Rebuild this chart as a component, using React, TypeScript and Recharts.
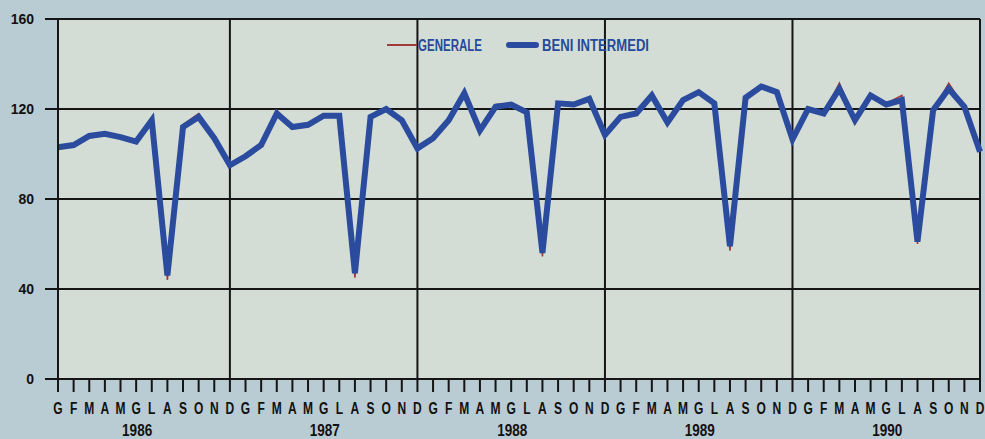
import React from "react";
import {
  LineChart,
  Line,
  XAxis,
  YAxis,
  CartesianGrid,
  ReferenceLine,
} from "recharts";

const MONTHS = ["G", "F", "M", "A", "M", "G", "L", "A", "S", "O", "N", "D"];
const YEARS = ["1986", "1987", "1988", "1989", "1990"];
const Y_TICKS = [0, 40, 80, 120, 160];

// indice generale (linea sottile rossa)
const GENERALE = [
  103, 104, 108, 109, 107.5, 105.5, 115.5, 44, 113, 118, 107, 95,
  99, 104, 119.5, 112, 113, 117, 117, 45, 116.5, 120, 115, 102.5,
  107, 115, 127, 110.5, 122, 122.5, 118.5, 54.5, 122.5, 122, 124.5, 108.5,
  116.5, 118, 126, 114, 124, 127.5, 122.5, 57, 125, 130.5, 127.5, 106.5,
  120, 118, 131.5, 115, 126, 122.5, 126, 60, 119.5, 131.5, 121, 101,
];

// beni intermedi (linea spessa blu)
const BENI_INTERMEDI = [
  103, 104, 108, 109, 107.5, 105.5, 115, 46, 112, 116.5, 107, 95,
  99, 104, 118, 112, 113, 117, 117, 47, 116.5, 120, 115, 102.5,
  107, 115, 127, 110.5, 121, 122, 118.5, 56, 122.5, 122, 124.5, 108.5,
  116.5, 118, 126, 114, 124, 127.5, 122.5, 59, 125, 130, 127.5, 106.5,
  120, 118, 129, 115, 126, 122, 124, 61, 119.5, 129, 121, 101,
];

const RED = "#a23a3a";
const BLUE = "#2b4c9e";
const FONT = "'Liberation Sans', Arial, sans-serif";

const data = BENI_INTERMEDI.map((v, i) => ({
  i,
  generale: GENERALE[i],
  beni: v,
}));

const xTicks = data.map((d) => d.i);
const yearEnds = YEARS.map((_, k) => k * 12 + 11);

function MonthTick(props: any) {
  const { x, y, payload } = props;
  const idx = Number(payload.value);
  const year = idx % 12 === 5 ? YEARS[Math.floor(idx / 12)] : null;
  return (
    <g>
      <text
        transform={`translate(${x},${y + 20}) scale(0.75,1)`}
        textAnchor="middle"
        fontFamily={FONT}
        fontWeight="bold"
        fontSize={16}
        fill="#111"
      >
        {MONTHS[idx % 12]}
      </text>
      {year && (
        <text
          transform={`translate(${x + 1},${y + 42}) scale(0.82,1)`}
          textAnchor="middle"
          fontFamily={FONT}
          fontWeight="bold"
          fontSize={16.5}
          fill="#111"
        >
          {year}
        </text>
      )}
    </g>
  );
}

// legenda in alto, sopra l'area del grafico
function LegendBox() {
  return (
    <svg
      width={300}
      height={20}
      style={{ position: "absolute", left: 385, top: 35, overflow: "visible" }}
    >
      <line x1={2} y1={10} x2={32} y2={10} stroke={RED} strokeWidth={2} />
      <text
        x={33}
        y={16}
        fontFamily={FONT}
        fontSize={16}
        fontWeight="bold"
        fill="#274a9a"
        textLength={64}
        lengthAdjust="spacingAndGlyphs"
      >
        GENERALE
      </text>
      <line x1={124} y1={10} x2={151} y2={10} stroke={BLUE} strokeWidth={6} strokeLinecap="round" />
      <text
        x={157}
        y={16}
        fontFamily={FONT}
        fontSize={16}
        fontWeight="bold"
        fill="#274a9a"
        textLength={107}
        lengthAdjust="spacingAndGlyphs"
      >
        BENI INTERMEDI
      </text>
    </svg>
  );
}

export default function App() {
  return (
    <div style={{ width: 985, height: 439, background: "#b9cbd3", position: "relative" }}>
      <style>{`body{margin:0}`}</style>
      <LineChart
        width={985}
        height={439}
        data={data}
        margin={{ top: 19, right: 5, bottom: 0, left: 0 }}
      >
        <CartesianGrid
          vertical={false}
          stroke="#151515"
          strokeWidth={2}
          fill="#d4ddd5"
          fillOpacity={1}
        />
        <XAxis
          type="number"
          dataKey="i"
          domain={[0, 59]}
          ticks={xTicks}
          interval={0}
          tickSize={13}
          tickMargin={2}
          tickLine={{ stroke: "#151515", strokeWidth: 2 }}
          axisLine={{ stroke: "#151515", strokeWidth: 2 }}
          tick={<MonthTick />}
          height={60}
        />
        <YAxis
          domain={[0, 160]}
          ticks={Y_TICKS}
          interval={0}
          width={58}
          tickSize={13}
          tickMargin={11}
          tickLine={{ stroke: "#151515", strokeWidth: 2 }}
          axisLine={{ stroke: "#151515", strokeWidth: 2 }}
          tick={{ fill: "#111", fontSize: 14, fontWeight: "bold", fontFamily: FONT }}
        />
        {yearEnds.map((x) => (
          <ReferenceLine key={x} x={x} stroke="#151515" strokeWidth={2} ifOverflow="visible" />
        ))}
        <Line
          type="linear"
          dataKey="generale"
          name="GENERALE"
          stroke={RED}
          strokeWidth={1.5}
          dot={false}
          isAnimationActive={false}
        />
        <Line
          type="linear"
          dataKey="beni"
          name="BENI INTERMEDI"
          stroke={BLUE}
          strokeWidth={6}
          dot={false}
          isAnimationActive={false}
        />
      </LineChart>
      <LegendBox />
    </div>
  );
}
